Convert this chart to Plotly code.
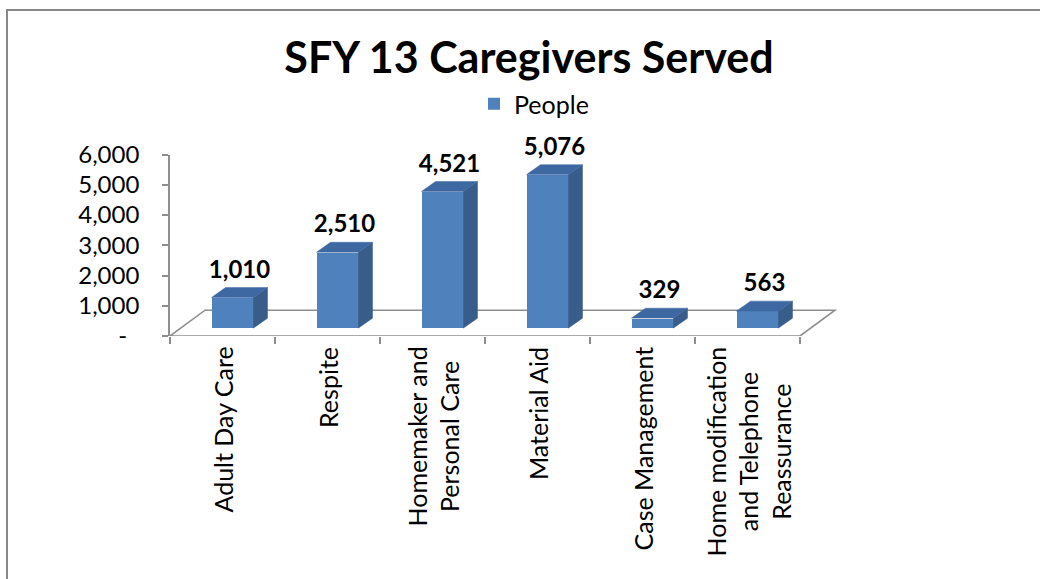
import plotly.graph_objects as go

# ---- data ----
categories = ["Adult Day Care", "Respite", "Homemaker and<br>Personal Care", "Material Aid",
              "Case Management", "Home modification<br>and Telephone<br>Reassurance"]
people = [1010, 2510, 4521, 5076, 329, 563]
ytick_vals = [0, 1000, 2000, 3000, 4000, 5000, 6000]
ytick_text = ["-\u00a0\u00a0", "1,000", "2,000", "3,000", "4,000", "5,000", "6,000"]
series_name = "People"
title_text = "SFY 13 Caregivers Served"

# ---- geometry / styling (pixel-based constants converted to data units) ----
W, H = 1040, 579
L, R, T, B = 170, 837, 153, 336
n = len(categories)
px_cat = 105.0
xr = [-0.5, -0.5 + (R - L) / px_cat]
yr = [0, 6000]
px_y = (B - T) / (yr[1] - yr[0])

floor_dx = 35 / px_cat
floor_dy = 26 / px_y
bar_base = 8 / px_y
bar_shift = 10 / px_cat
bar_w = 42 / px_cat
bar_dx = 14 / px_cat
bar_dy = 10 / px_y

FRONT = "#4F81BD"
TOP = "#3E68A2"
SIDE = "#385D8A"
GRID = "#8E8E8E"
FONT = "Lato"

fig = go.Figure()

# side + top faces
for i, v in enumerate(people):
    xc = i + bar_shift
    x0, x1 = xc - bar_w / 2, xc + bar_w / 2
    y0, y1 = bar_base, bar_base + v
    fig.add_trace(go.Scatter(
        x=[x1, x1 + bar_dx, x1 + bar_dx, x1, x1],
        y=[y0, y0 + bar_dy, y1 + bar_dy, y1, y0],
        fill="toself", fillcolor=SIDE, mode="lines", line=dict(width=0.5, color=SIDE),
        showlegend=False, hoverinfo="skip"))
    fig.add_trace(go.Scatter(
        x=[x0, x1, x1 + bar_dx, x0 + bar_dx, x0],
        y=[y1, y1, y1 + bar_dy, y1 + bar_dy, y1],
        fill="toself", fillcolor=TOP, mode="lines", line=dict(width=0.5, color=TOP),
        showlegend=False, hoverinfo="skip"))

# data labels
fig.add_trace(go.Scatter(
    x=[i + bar_shift + bar_dx / 2 for i in range(n)],
    y=[bar_base + v + bar_dy + 4 / px_y for v in people],
    mode="text", text=[f"{v:,}" for v in people], textposition="top center",
    textfont=dict(family=FONT, size=24, color="black", weight="bold"),
    showlegend=False, hoverinfo="skip", cliponaxis=False))

# front faces
fig.add_trace(go.Bar(
    x=[i + bar_shift for i in range(n)], y=people, base=bar_base, width=bar_w,
    marker=dict(color=FRONT, line=dict(width=0)), name=series_name, showlegend=True))

# floor
fig.add_shape(type="path", layer="below",
              path=(f"M {xr[0]} 0 L {n - 0.5} 0 L {n - 0.5 + floor_dx} {floor_dy} "
                    f"L {xr[0] + floor_dx} {floor_dy} Z"),
              xref="x", yref="y", line=dict(color=GRID, width=1.6))

# chart frame
fig.add_shape(type="rect", xref="paper", yref="paper",
              x0=(7 - L) / (R - L), x1=(W + 20 - L) / (R - L),
              y0=(B - (H + 20)) / (B - T), y1=(B - 7) / (B - T),
              line=dict(color="#888888", width=2), layer="below")

# category labels
for i, c in enumerate(categories):
    fig.add_annotation(x=i, y=0, xref="x", yref="paper", text=c, showarrow=False,
                       textangle=-90, xanchor="center", yanchor="top", yshift=-9,
                       align="center", font=dict(family=FONT, size=25, color="black"))

fig.update_layout(
    width=W, height=H,
    margin=dict(l=L, r=W - R, t=T, b=H - B, pad=0),
    paper_bgcolor="white", plot_bgcolor="rgba(0,0,0,0)",
    title=dict(text=title_text, x=529 / W, xref="container", xanchor="center",
               y=1 - 58 / H, yref="container", yanchor="middle",
               font=dict(family=FONT, size=43, color="black", weight="bold")),
    legend=dict(orientation="h", x=474 / W, xref="container", xanchor="left",
                y=1 - 104 / H, yref="container", yanchor="middle",
                font=dict(family=FONT, size=25, color="black"), itemwidth=30,
                bgcolor="rgba(0,0,0,0)"),
    showlegend=True,
    xaxis=dict(range=xr, showgrid=False, zeroline=False, showline=False,
               tickvals=[i - 0.5 for i in range(n + 1)], ticktext=[""] * (n + 1),
               ticks="outside", ticklen=7, tickcolor=GRID, tickwidth=1.6, fixedrange=True),
    yaxis=dict(range=yr, showgrid=False, zeroline=False, showline=True, linecolor=GRID,
               linewidth=1.6, tickvals=ytick_vals, ticktext=ytick_text, ticks="outside",
               ticklen=6, tickcolor=GRID, tickwidth=1.6, ticklabelstandoff=18,
               tickfont=dict(family=FONT, size=24, color="black"), fixedrange=True),
    bargap=0,
)

fig.write_html("out.html", config={"displayModeBar": False},
               post_script="document.body.style.margin='0';document.body.style.overflow='hidden';")
